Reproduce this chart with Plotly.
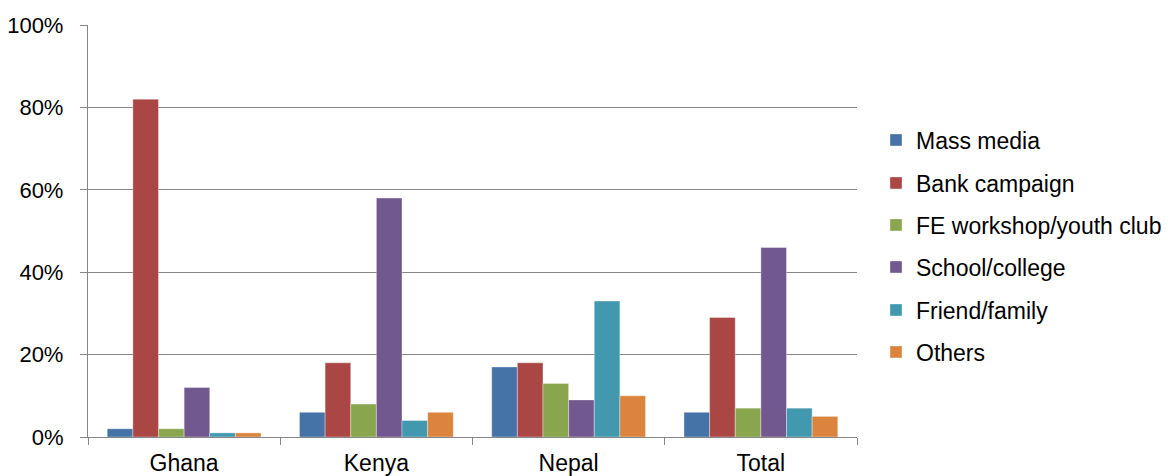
import plotly.graph_objects as go

categories = ["Ghana", "Kenya", "Nepal", "Total"]
series_names = ["Mass media", "Bank campaign", "FE workshop/youth club",
                "School/college", "Friend/family", "Others"]
mass_media = [2, 6, 17, 6]
bank_campaign = [82, 18, 18, 29]
fe_workshop = [2, 8, 13, 7]
school_college = [12, 58, 9, 46]
friend_family = [1, 4, 33, 7]
others = [1, 6, 10, 5]
colors = ["#4572A7", "#AA4643", "#89A54E", "#71588F", "#4198AF", "#DB843D"]

series_values = [mass_media, bank_campaign, fe_workshop,
                 school_college, friend_family, others]

W, H = 1172, 476
FONT = "Liberation Sans, Arial, sans-serif"

fig = go.Figure()
legend_centers_px = [140, 183, 225, 267, 310, 352]
legend_ids = ["legend", "legend2", "legend3", "legend4", "legend5", "legend6"]

for i, (name, vals, col) in enumerate(zip(series_names, series_values, colors)):
    fig.add_trace(go.Bar(
        x=categories, y=[v / 100 for v in vals], name=name,
        marker=dict(color=col, line=dict(color="rgba(255,255,255,0.6)", width=0.6)),
        legend=legend_ids[i],
    ))

layout_legends = {}
for i, lid in enumerate(legend_ids):
    layout_legends[lid] = dict(
        xref="container", yref="container",
        x=876 / W, y=1 - legend_centers_px[i] / H,
        xanchor="left", yanchor="middle",
        font=dict(family=FONT, size=23, color="#000000"),
        bgcolor="rgba(0,0,0,0)", borderwidth=0,
        itemclick=False, itemdoubleclick=False,
    )

fig.update_layout(
    width=W, height=H,
    margin=dict(l=88, r=W - 857, t=25, b=H - 437, autoexpand=False),
    plot_bgcolor="white", paper_bgcolor="white",
    font=dict(family=FONT, size=20, color="#000000"),
    bargap=0.2, bargroupgap=0,
    barmode="group",
    showlegend=True,
    **layout_legends,
)

fig.update_xaxes(
    type="category", automargin=False,
    showline=True, linecolor="#868686", linewidth=1.3,
    ticks="outside", tickson="boundaries", ticklen=7, tickcolor="#868686", tickwidth=1.3,
    tickfont=dict(family=FONT, size=23, color="#000000"),
    showgrid=False,
    ticklabelstandoff=5,
)
fig.update_yaxes(
    range=[0, 1], dtick=0.2, tickformat=".0%", automargin=False,
    showline=True, linecolor="#868686", linewidth=1.3,
    ticks="outside", ticklen=7, tickcolor="#868686", tickwidth=1.3,
    showgrid=True, gridcolor="#868686", gridwidth=1.3,
    zeroline=False,
    tickfont=dict(family=FONT, size=22, color="#000000"),
    ticklabelstandoff=12,
)

fig.write_html("out.html")
